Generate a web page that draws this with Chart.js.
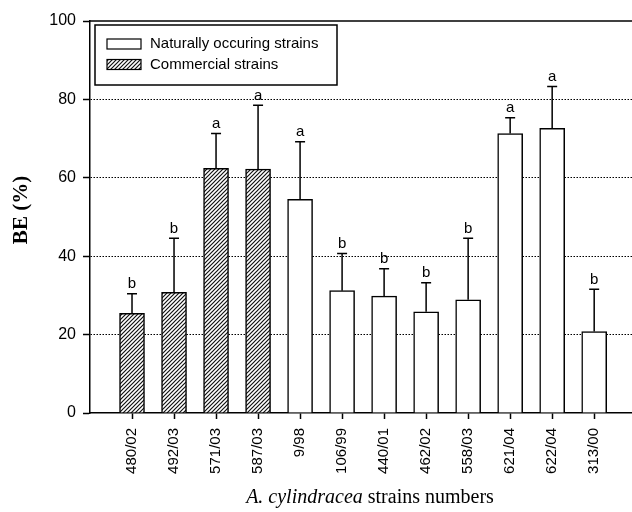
<!DOCTYPE html>
<html><head><meta charset="utf-8">
<script src="https://cdn.jsdelivr.net/npm/chart.js@4/dist/chart.umd.min.js"></script>
<style>html,body{margin:0;padding:0;background:#fff}#wrap{width:632px;height:512px}</style>
</head><body><div id="wrap"><canvas id="c" width="632" height="512"></canvas></div>
<script>
const strains = ['480/02','492/03','571/03','587/03','9/98','106/99','440/01','462/02','558/03','621/04','622/04','313/00'];
const meanBE = [25.4, 30.8, 62.4, 62.2, 54.5, 31.2, 29.8, 25.8, 28.9, 71.3, 72.6, 20.8];
const sdBE = [5.0, 13.8, 8.9, 16.3, 14.7, 9.5, 7.0, 7.4, 15.7, 4.0, 10.7, 10.8];
const letters = ['b','b','a','a','a','b','b','b','b','a','a','b'];
const isCommercial = [true, true, true, true, false, false, false, false, false, false, false, false];
const yTicks = [0, 20, 40, 60, 80, 100];
const seriesNames = ['Naturally occuring strains', 'Commercial strains'];
const xTitleItalic = 'A. cylindracea';
const xTitleRest = ' strains numbers';
const yTitle = 'BE (%)';

const canvas = document.getElementById('c');
const ctx = canvas.getContext('2d');

function makeHatch() {
  const s = 4;
  const c = document.createElement('canvas'); c.width = s; c.height = s;
  const g = c.getContext('2d');
  g.fillStyle = '#fff'; g.fillRect(0, 0, s, s);
  g.strokeStyle = '#111'; g.lineWidth = 1.2;
  g.beginPath();
  g.moveTo(-1, s + 1); g.lineTo(s + 1, -1);
  g.moveTo(-1, 1); g.lineTo(1, -1);
  g.moveTo(s - 1, s + 1); g.lineTo(s + 1, s - 1);
  g.stroke();
  return ctx.createPattern(c, 'repeat');
}
const hatch = makeHatch();

const naturalData = [], commercialData = [];
strains.forEach((s, i) => {
  (isCommercial[i] ? commercialData : naturalData).push({x: i, y: meanBE[i]});
});

const SANS = "'Liberation Sans', Arial, sans-serif";
const SERIF = "'Liberation Serif', 'Times New Roman', serif";

const extras = {
  id: 'extras',
  afterDatasetsDraw(chart) {
    const c = chart.ctx, xs = chart.scales.x, ys = chart.scales.y, a = chart.chartArea;
    c.save();
    c.strokeStyle = '#000'; c.lineWidth = 1.5; c.setLineDash([]);
    c.beginPath(); c.moveTo(a.left, a.top); c.lineTo(a.right, a.top); c.stroke();
    c.lineWidth = 1.5;
    c.font = '15px ' + SANS; c.fillStyle = '#000'; c.textAlign = 'center'; c.textBaseline = 'bottom';
    strains.forEach((s, i) => {
      const x = xs.getPixelForValue(i);
      const y0 = ys.getPixelForValue(meanBE[i]);
      const y1 = ys.getPixelForValue(meanBE[i] + sdBE[i]);
      c.beginPath(); c.moveTo(x, y0); c.lineTo(x, y1);
      c.moveTo(x - 5, y1); c.lineTo(x + 5, y1); c.stroke();
      c.fillText(letters[i], x, y1 - 2);
    });
    const lx = a.left + 5, ly = a.top + 4, lw = 242, lh = 60;
    c.fillStyle = '#fff'; c.fillRect(lx, ly, lw, lh);
    c.strokeStyle = '#000'; c.lineWidth = 1.5; c.strokeRect(lx, ly, lw, lh);
    const fills = ['#fff', hatch];
    c.textAlign = 'left'; c.textBaseline = 'middle'; c.font = '15px ' + SANS;
    seriesNames.forEach((n, k) => {
      const cy = ly + 19 + k * 20.5;
      c.fillStyle = fills[k]; c.fillRect(lx + 12, cy - 5, 34, 10);
      c.lineWidth = 1.2; c.strokeRect(lx + 12, cy - 5, 34, 10);
      c.fillStyle = '#000'; c.fillText(n, lx + 55, cy);
    });
    c.save();
    c.translate(22, 210); c.rotate(-Math.PI / 2);
    c.font = 'bold 21px ' + SERIF; c.textAlign = 'center'; c.textBaseline = 'middle';
    c.fillText(yTitle, 0, 0);
    c.restore();
    c.textBaseline = 'alphabetic';
    c.font = 'italic 20px ' + SERIF;
    const w1 = c.measureText(xTitleItalic).width;
    c.font = '20px ' + SERIF;
    const w2 = c.measureText(xTitleRest).width;
    const sx = 370 - (w1 + w2) / 2;
    c.font = 'italic 20px ' + SERIF; c.fillText(xTitleItalic, sx, 503);
    c.font = '20px ' + SERIF; c.fillText(xTitleRest, sx + w1, 503);
    c.restore();
  }
};

new Chart(ctx, {
  type: 'bar',
  data: {
    datasets: [
      {label: seriesNames[1], data: commercialData, backgroundColor: hatch, borderColor: '#000', borderWidth: 1.5, barThickness: 25, grouped: false},
      {label: seriesNames[0], data: naturalData, backgroundColor: '#fff', borderColor: '#000', borderWidth: 1.5, barThickness: 25, grouped: false}
    ]
  },
  options: {
    responsive: false, animation: false, devicePixelRatio: 1,
    layout: {padding: {left: 0, right: 0, top: 21, bottom: 0}},
    plugins: {legend: {display: false}, tooltip: {enabled: false}},
    scales: {
      x: {
        type: 'linear', min: -1, max: 11.9, offset: false,
        afterBuildTicks: ax => { ax.ticks = strains.map((_, i) => ({value: i})); },
        afterFit: s => { s.height = 99; },
        ticks: {callback: v => strains[v] ?? '', minRotation: 90, maxRotation: 90, autoSkip: false,
                font: {family: SANS, size: 15}, color: '#000', padding: 9},
        grid: {offset: false, drawOnChartArea: false, drawTicks: true, tickLength: 6, tickColor: '#000', tickWidth: 1.5},
        border: {color: '#000', width: 1.5}
      },
      y: {
        min: 0, max: 100,
        afterBuildTicks: ax => { ax.ticks = yTicks.map(v => ({value: v})); },
        afterFit: s => { s.width = 90; },
        ticks: {font: {family: SANS, size: 16}, color: '#000', padding: 7},
        grid: {color: c => (c.tick && (c.tick.value === 0 || c.tick.value === 100)) ? 'rgba(0,0,0,0)' : '#000',
               lineWidth: 1, drawTicks: true, tickLength: 7, tickColor: '#000', tickWidth: 1.5, tickBorderDash: []},
        border: {color: '#000', width: 1.5, dash: [1.5, 1.5]}
      }
    }
  },
  plugins: [extras]
});
</script>
</body></html>
